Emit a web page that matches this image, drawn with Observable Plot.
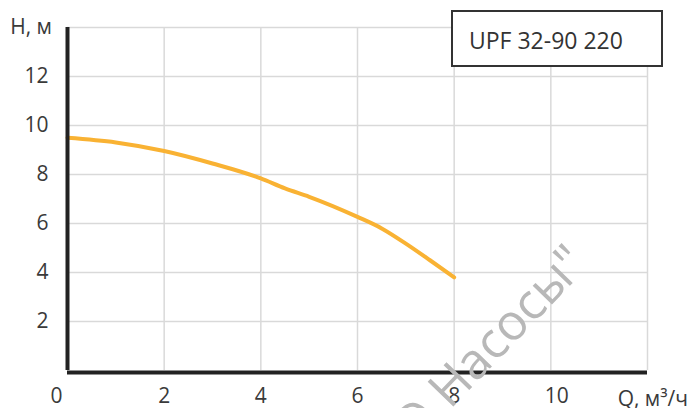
<!DOCTYPE html>
<html>
<head>
<meta charset="utf-8">
<script src="https://cdn.jsdelivr.net/npm/d3@7"></script>
<script src="https://cdn.jsdelivr.net/npm/@observablehq/plot@0.6"></script>
<style>
  html, body { margin: 0; padding: 0; background: #fff; }
  #chart { position: relative; width: 689px; height: 408px; overflow: hidden; }
  svg { font-family: "Open Sans", "Noto Sans", sans-serif; }
</style>
</head>
<body>
<div id="chart"></div>
<script>
// Flow Q (m³/h) and head H (m) of the pump curve
const flowQ = [0, 1, 2, 3, 4, 4.5, 5, 6, 6.5, 7, 7.5, 8];
const headH = [9.5, 9.31, 8.96, 8.45, 7.84, 7.43, 7.09, 6.27, 5.8, 5.18, 4.5, 3.8];
const xTicks = [0, 2, 4, 6, 8, 10];
const yTicks = [2, 4, 6, 8, 10, 12];
const xGrid = [2, 4, 6, 8, 10, 12];
const yGrid = [2, 4, 6, 8, 10, 12, 14];
const modelName = "UPF 32-90 220";
const yLabel = "H, м";
const xLabel = "Q, м³/ч";
const watermarkPrefix = "ООО ";
const watermarkMain = "Насосы\"";

const curve = flowQ.map((q, i) => ({q, h: headH[i]}));

const plot = Plot.plot({
  width: 689,
  height: 408,
  marginLeft: 67,
  marginRight: 42,
  marginTop: 27,
  marginBottom: 38,
  x: {domain: [0, 12], axis: null},
  y: {domain: [0, 14], axis: null},
  style: {fontFamily: "'Open Sans', 'Noto Sans', sans-serif", fontSize: "21px", color: "#3a3a3a", background: "#fff"},
  marks: [
    Plot.gridX(xGrid, {stroke: "#d9d9d9", strokeOpacity: 1, strokeWidth: 1.5}),
    Plot.gridY(yGrid, {stroke: "#d9d9d9", strokeOpacity: 1, strokeWidth: 1.5}),
    Plot.line(curve, {x: "q", y: "h", stroke: "#f9b233", strokeWidth: 4, curve: "monotone-x"}),
    Plot.ruleX([0], {y1: 0, y2: 14, stroke: "#222", strokeWidth: 4}),
    Plot.ruleY([0], {x1: 0, x2: 12, stroke: "#222", strokeWidth: 4, dy: 2}),
    Plot.axisY(yTicks, {tickSize: 0, tickPadding: 19, label: null, fontSize: 21, fill: "#3a3a3a"}),
    Plot.text(xTicks.filter(d => d !== 0), {x: d => d, frameAnchor: "bottom", dy: 32, textAnchor: "start", dx: -6, fontSize: 21, fill: "#3a3a3a", text: d => String(d)}),
    Plot.text(xTicks.filter(d => d === 0), {x: d => d, frameAnchor: "bottom", dy: 32, dx: -11, fontSize: 21, fill: "#3a3a3a", text: d => String(d)})
  ]
});

document.getElementById("chart").appendChild(plot);
const svg = d3.select(plot);

// axis titles
svg.append("text").attr("x", 52).attr("y", 26).attr("text-anchor", "end")
  .attr("dominant-baseline", "central").attr("font-size", 21).attr("fill", "#3a3a3a").text(yLabel);
svg.append("text").attr("x", 688).attr("y", 398).attr("text-anchor", "end")
  .attr("dominant-baseline", "central").attr("font-size", 21).attr("fill", "#3a3a3a").text(xLabel);

// model legend box
svg.append("rect").attr("x", 452).attr("y", 11).attr("width", 210).attr("height", 55)
  .attr("fill", "#fff").attr("stroke", "#333").attr("stroke-width", 2);
svg.append("text").attr("x", 469).attr("y", 40).attr("text-anchor", "start").attr("dominant-baseline", "central")
  .attr("font-size", 23).attr("fill", "#333").text(modelName);

// watermark
const wm = svg.append("g").attr("transform", "translate(450,410) rotate(-46)");
wm.append("text").attr("x", 0).attr("y", 0).attr("text-anchor", "end")
  .attr("font-size", 50).attr("fill", "#b8b8b8").text(watermarkPrefix);
wm.append("text").attr("x", 0).attr("y", 0).attr("text-anchor", "start")
  .attr("font-size", 50).attr("fill", "#b8b8b8").text(watermarkMain);
</script>
</body>
</html>
